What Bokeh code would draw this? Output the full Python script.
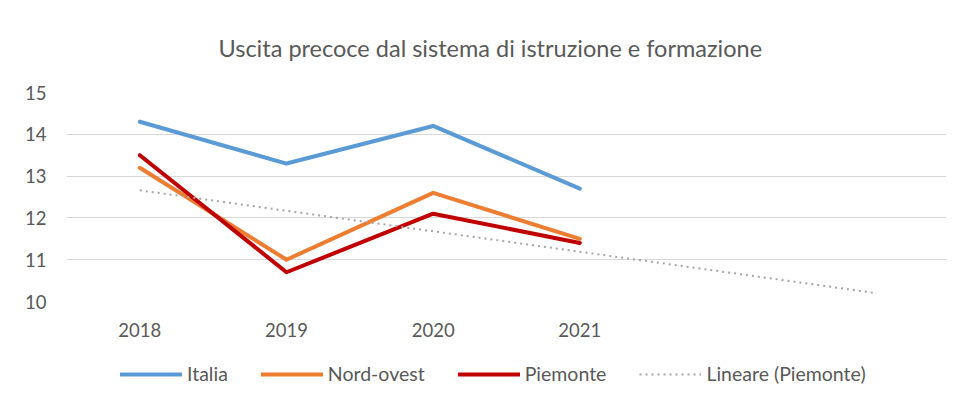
import numpy as np
from bokeh.plotting import figure
from bokeh.layouts import column
from bokeh.models import Legend, LegendItem, FixedTicker
from bokeh.embed import file_html
from bokeh.resources import INLINE

# ---- data ----
years = ["2018", "2019", "2020", "2021"]
italia = [14.3, 13.3, 14.2, 12.7]
nord_ovest = [13.2, 11.0, 12.6, 11.5]
piemonte = [13.5, 10.7, 12.1, 11.4]
trend_forward_periods = 2
title_text = "Uscita precoce dal sistema di istruzione e formazione"
series_names = ["Italia", "Nord-ovest", "Piemonte", "Lineare (Piemonte)"]

xs = list(range(1, len(years) + 1))
slope, intercept = np.polyfit(xs, piemonte, 1)
tx = [xs[0], xs[-1] + trend_forward_periods]
ty = [intercept + slope * v for v in tx]

FONT = "Lato"
TXT = "#595959"
SMALL = "18.5px"
STYLES = [dict(line_color="#5B9BD5", line_width=4, line_cap="round", line_join="round"),
          dict(line_color="#ED7D31", line_width=4, line_cap="round", line_join="round"),
          dict(line_color="#C00000", line_width=4, line_cap="round", line_join="round"),
          dict(line_color="#A5A5A5", line_width=2, line_dash="2 4")]
SERIES = [(xs, italia), (xs, nord_ovest), (xs, piemonte), (tx, ty)]

p = figure(width=957, height=345, output_backend="svg", toolbar_location=None,
           x_range=(0.5, 6.5), y_range=(10, 15),
           min_border_left=66, min_border_right=11, min_border_top=91, min_border_bottom=44)
p.outline_line_color = None
p.background_fill_color = "white"
p.border_fill_color = "white"

p.title.text = title_text
p.title.align = "left"
p.title.offset = 152
p.title.text_font = FONT
p.title.text_font_size = "23.5px"
p.title.text_font_style = "normal"
p.title.text_color = TXT
p.title.standoff = 62

# axes
p.xaxis.ticker = FixedTicker(ticks=xs)
p.xaxis.major_label_overrides = {x: y for x, y in zip(xs, years)}
p.yaxis.ticker = FixedTicker(ticks=[10, 11, 12, 13, 14, 15])
for ax in (p.xaxis[0], p.yaxis[0]):
    ax.axis_line_color = None
    ax.major_tick_line_color = None
    ax.minor_tick_line_color = None
    ax.major_label_text_font = FONT
    ax.major_label_text_font_size = SMALL
    ax.major_label_text_color = TXT
p.xaxis.major_label_standoff = 15
p.yaxis.major_label_standoff = 14

p.xgrid.grid_line_color = None
p.ygrid.grid_line_color = "#D9D9D9"
p.ygrid.grid_line_width = 1

for (sx, sy), st in zip(SERIES, STYLES):
    p.line(sx, sy, **st)

# legend strip (separate canvas so the legend is not clipped);
# the series are drawn there in a range that keeps them out of view
lg = figure(width=957, height=58, output_backend="svg", toolbar_location=None,
            x_axis_location=None, y_axis_location=None, title=None,
            x_range=(0.5, 6.5), y_range=(0, 1),
            min_border=0, min_border_left=0, min_border_right=0,
            min_border_top=0, min_border_bottom=0)
lg.outline_line_color = None
lg.xgrid.grid_line_color = None
lg.ygrid.grid_line_color = None
lg.background_fill_color = "white"
lg.border_fill_color = "white"
items = []
for name, (sx, sy), st in zip(series_names, SERIES, STYLES):
    r = lg.line(sx, sy, **st)
    items.append(LegendItem(label=name, renderers=[r]))

legend = Legend(items=items, orientation="horizontal", location=(54, 18))
legend.padding = 0
legend.margin = 0
legend.spacing = 33
legend.label_standoff = 5
legend.glyph_width = 62
legend.glyph_height = 20
legend.label_height = 20
legend.label_text_font = FONT
legend.label_text_font_size = "19.5px"
legend.label_text_color = TXT
legend.border_line_color = None
legend.background_fill_alpha = 0
lg.add_layout(legend, "center")

layout = column(p, lg, spacing=0)
open("out.html", "w").write(file_html(layout, INLINE))
